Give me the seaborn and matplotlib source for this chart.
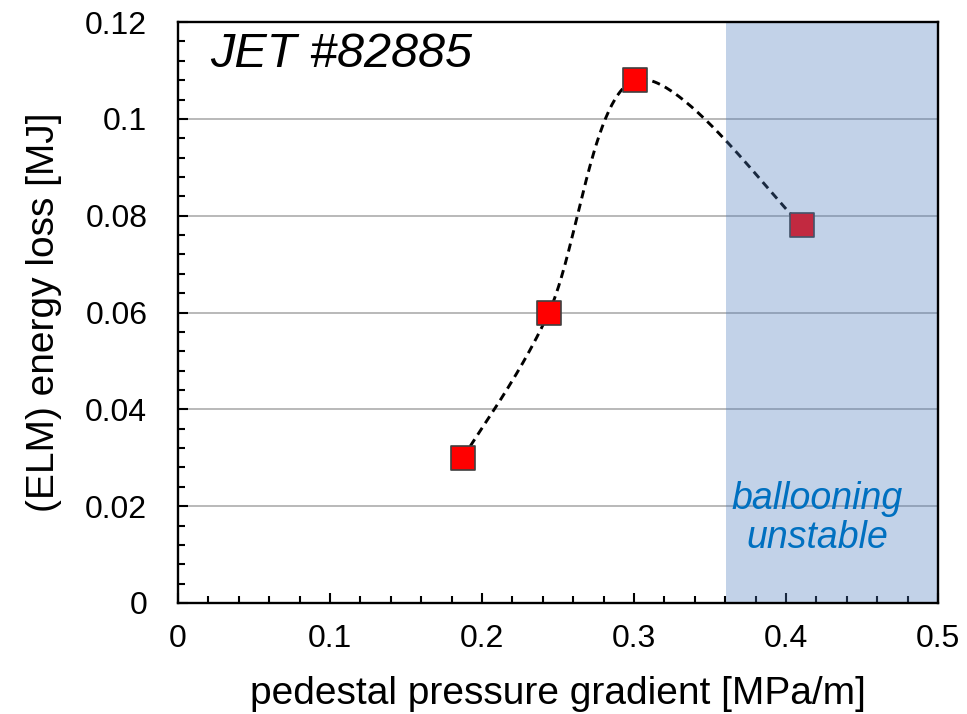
import numpy as np
import pandas as pd
import matplotlib
matplotlib.use("Agg")
import matplotlib.pyplot as plt
from matplotlib.ticker import MultipleLocator, FuncFormatter
import seaborn as sns

# values
pressure_gradient = [0.1875, 0.244, 0.3005, 0.4105]   # MPa/m
energy_loss = [0.030, 0.060, 0.108, 0.078]             # MJ
unstable_from = 0.3605
shot_label = "JET #82885"


def smooth_curve(x, y, sx, sy, n=60):
    """Catmull-Rom spline through the points (like a smoothed Excel line),
    computed in screen-like units so the shape matches the drawn aspect."""
    p = np.column_stack([np.asarray(x) * sx, np.asarray(y) * sy])
    p = np.vstack([p[0], p, p[-1]])
    out = []
    t = np.linspace(0, 1, n)[:, None]
    for i in range(1, len(p) - 2):
        p0, p1, p2, p3 = p[i - 1], p[i], p[i + 1], p[i + 2]
        seg = 0.5 * ((2 * p1) + (-p0 + p2) * t
                     + (2 * p0 - 5 * p1 + 4 * p2 - p3) * t ** 2
                     + (-p0 + 3 * p1 - 3 * p2 + p3) * t ** 3)
        out.append(seg if i == 1 else seg[1:])
    out = np.vstack(out)
    return out[:, 0] / sx, out[:, 1] / sy


sns.set_theme(style="white")
plt.rcParams['font.family'] = ['Liberation Sans', 'DejaVu Sans']
plt.rcParams['text.color'] = 'black'
plt.rcParams['axes.labelcolor'] = 'black'

fig = plt.figure(figsize=(9.67, 7.14), dpi=100)
ax = fig.add_axes([0.184, 0.1555, 0.786, 0.8135])

df = pd.DataFrame({"x": pressure_gradient, "y": energy_loss})
cx, cy = smooth_curve(df["x"], df["y"], 760 / 0.5, 578 / 0.12)
curve = pd.DataFrame({"x": cx, "y": cy})

sns.lineplot(data=curve, x="x", y="y", ax=ax, color="black", lw=2.1,
             dashes=False, sort=False, zorder=3)
ax.lines[-1].set_dashes([2.8, 1.9])
sns.scatterplot(data=df, x="x", y="y", ax=ax, marker="s", s=280,
                color="#FF0000", edgecolor="#404040", linewidth=1.2, zorder=4)

ax.axvspan(unstable_from, 0.5, color="#4C7BBC", alpha=0.34, lw=0, zorder=5)

ax.set_xlim(0, 0.5)
ax.set_ylim(0, 0.12)
ax.xaxis.set_major_locator(MultipleLocator(0.1))
ax.xaxis.set_minor_locator(MultipleLocator(0.02))
ax.yaxis.set_major_locator(MultipleLocator(0.02))
ax.yaxis.set_minor_locator(MultipleLocator(0.004))
fmt = FuncFormatter(lambda v, _: "0" if abs(v) < 1e-9 else f"{v:g}")
ax.xaxis.set_major_formatter(fmt)
ax.yaxis.set_major_formatter(fmt)

ax.grid(axis="y", which="major", color="#A6A6A6", lw=1.1, zorder=1)
ax.set_axisbelow(True)
for s in ax.spines.values():
    s.set_visible(True)
    s.set_color("black")
    s.set_linewidth(1.7)
    s.set_zorder(6)

ax.tick_params(which="both", direction="in", colors="black", width=1.5,
               bottom=True, left=True, top=False, right=False)
ax.tick_params(which="major", length=7.5, labelsize=23)
ax.tick_params(which="minor", length=5)
ax.tick_params(axis="x", which="major", pad=15)
ax.tick_params(axis="y", which="major", pad=22)

ax.set_xlabel("pedestal pressure gradient [MPa/m]", fontsize=28, labelpad=16,
              color="black")
ax.set_ylabel("(ELM) energy loss [MJ]", fontsize=28, labelpad=17,
              color="black")

ax.text(0.021, 0.1107, shot_label, fontsize=35, style="italic",
        va="baseline", ha="left", color="black", zorder=7)
ax.text(0.4205, 0.0175, "ballooning\nunstable", fontsize=27, style="italic",
        color="#0070C0", ha="center", va="center", linespacing=1.1, zorder=7)

fig.savefig("out.png", dpi=100)
